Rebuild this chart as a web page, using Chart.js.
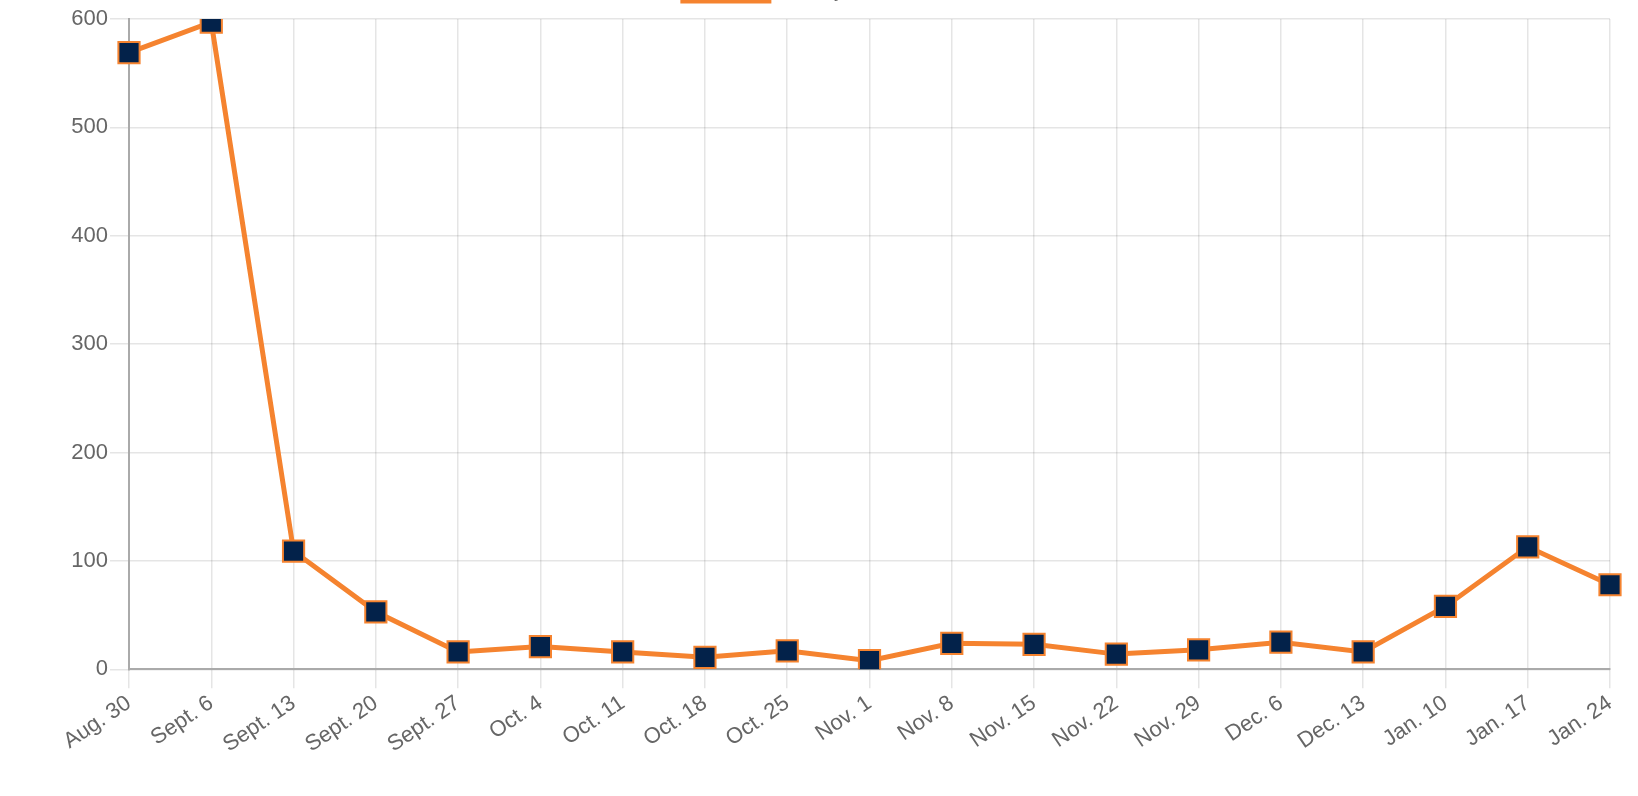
<!DOCTYPE html>
<html>
<head>
<meta charset="utf-8">
<script src="https://cdn.jsdelivr.net/npm/chart.js@4/dist/chart.umd.min.js"></script>
<style>
  html, body { margin: 0; padding: 0; background: #fff; overflow: hidden; }
  #wrap { position: absolute; left: 0; top: -35px; }
</style>
</head>
<body>
<div id="wrap"><canvas id="c" width="1627" height="795"></canvas></div>
<script>
const categories = ["Aug. 30", "Sept. 6", "Sept. 13", "Sept. 20", "Sept. 27", "Oct. 4", "Oct. 11", "Oct. 18", "Oct. 25", "Nov. 1", "Nov. 8", "Nov. 15", "Nov. 22", "Nov. 29", "Dec. 6", "Dec. 13", "Jan. 10", "Jan. 17", "Jan. 24"];
const weeklyCases = [569, 597, 109, 53, 16, 21, 16, 11, 17, 8, 24, 23, 14, 18, 25, 16, 58, 113, 78];
const seriesLabel = "Weekly new cases";
const yTicks = [0, 100, 200, 300, 400, 500, 600];

Chart.defaults.font.family = "'Liberation Sans', Arial, Helvetica, sans-serif";
Chart.defaults.font.size = 22;
Chart.defaults.color = "#666";

const legendGap = {
  id: 'legendGap',
  beforeInit(chart) {
    const origFit = chart.legend.fit;
    chart.legend.fit = function () {
      origFit.bind(chart.legend)();
      this.height += 8;
    };
  }
};

new Chart(document.getElementById('c'), {
  type: 'line',
  data: {
    labels: categories,
    datasets: [{
      label: seriesLabel,
      data: weeklyCases,
      borderColor: '#f5832f',
      backgroundColor: '#f5832f',
      borderWidth: 5,
      fill: false,
      tension: 0,
      pointStyle: 'rect',
      pointRadius: 15,
      pointHoverRadius: 15,
      pointBackgroundColor: '#03224a',
      pointBorderColor: '#f5832f',
      pointBorderWidth: 2
    }]
  },
  plugins: [legendGap],
  options: {
    responsive: false,
    animation: false,
    layout: { padding: { left: 0, right: 0, top: 0, bottom: 0 } },
    plugins: {
      legend: {
        display: true,
        labels: { boxWidth: 86, boxHeight: 20, padding: 16, font: { size: 20 } }
      },
      tooltip: { enabled: false }
    },
    scales: {
      x: {
        ticks: { autoSkip: false, minRotation: 34, maxRotation: 34, padding: 2 },
        grid: { color: 'rgba(0,0,0,0.1)', lineWidth: 1.5, tickLength: 19, offset: false },
        border: { color: '#aaa', width: 2 }
      },
      y: {
        min: 0,
        max: 600,
        afterBuildTicks: (axis) => { axis.ticks = yTicks.map(v => ({ value: v })); },
        afterFit: (axis) => { axis.width = 129; },
        ticks: { padding: 2 },
        grid: { color: 'rgba(0,0,0,0.1)', lineWidth: 1.5, tickLength: 19 },
        border: { color: '#aaa', width: 2 }
      }
    }
  }
});
</script>
</body>
</html>
